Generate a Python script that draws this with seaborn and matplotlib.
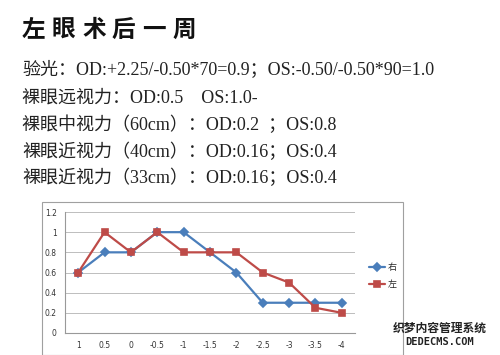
import pandas as pd
import matplotlib
matplotlib.use("Agg")
import matplotlib.pyplot as plt
import seaborn as sns
from matplotlib.patches import Rectangle

# data
categories = ['1', '0.5', '0', '-0.5', '-1', '-1.5', '-2', '-2.5', '-3', '-3.5', '-4']
right_eye = [0.6, 0.8, 0.8, 1.0, 1.0, 0.8, 0.6, 0.3, 0.3, 0.3, 0.3]
left_eye = [0.6, 1.0, 0.8, 1.0, 0.8, 0.8, 0.8, 0.6, 0.5, 0.25, 0.2]
series_names = ['右', '左']
yticks = [0, 0.2, 0.4, 0.6, 0.8, 1, 1.2]

title_chars = '左眼术后一周'
info_lines = [
    '验光：OD:+2.25/-0.50*70=0.9；OS:-0.50/-0.50*90=1.0',
    '裸眼远视力：OD:0.5    OS:1.0-',
    '裸眼中视力（60cm）：OD:0.2  ；OS:0.8',
    '裸眼近视力（40cm）：OD:0.16；OS:0.4',
    '裸眼近视力（33cm）：OD:0.16；OS:0.4',
]

df = pd.DataFrame({
    'x': categories * 2,
    'v': right_eye + left_eye,
    's': [series_names[0]] * len(categories) + [series_names[1]] * len(categories),
})

sns.set_style("white")
plt.rcParams['font.family'] = ['Liberation Serif', 'Noto Sans CJK SC', 'DejaVu Sans']

fig = plt.figure(figsize=(5, 3.55), dpi=100)
W, H = 500, 355

# chart frame (excel style box)
fig.patches.append(Rectangle((42 / W, 0), (403 - 42) / W, 1 - 202 / H,
                             transform=fig.transFigure, fill=False,
                             edgecolor='#a0a0a0', linewidth=0.8))

ax = fig.add_axes([65 / W, 1 - 333 / H, (355 - 65) / W, (333 - 212) / H])
colors = {'右': '#4a7ebb', '左': '#be4b48'}
sns.pointplot(data=df, x='x', y='v', hue='s', order=categories,
              palette=colors, markers=['D', 's'], linestyles=['-', '-'],
              errorbar=None, ax=ax, markersize=4.5, linewidth=1.6)

ax.set_ylim(0, 1.2)
ax.set_xlim(-0.5, len(categories) - 0.5)
ax.set_yticks(yticks)
ax.set_yticklabels([str(t) for t in yticks], fontsize=5.5, family='DejaVu Sans', color='#333333')
ax.set_xticklabels(categories, fontsize=5.5, family='DejaVu Sans', color='#333333')
ax.set_xlabel('')
ax.set_ylabel('')
ax.yaxis.grid(True, color='#bdbdbd', linewidth=0.7)
ax.set_axisbelow(True)
for side in ['top', 'right']:
    ax.spines[side].set_visible(False)
for side in ['left', 'bottom']:
    ax.spines[side].set_color('#999999')
    ax.spines[side].set_linewidth(0.8)
ax.tick_params(axis='both', length=0, pad=6)

leg = ax.legend(loc='center left', bbox_to_anchor=(1.02, 0.47), frameon=False,
                fontsize=6.5, handlelength=1.8, labelspacing=0.9, handletextpad=0.3)
leg.set_title(None)

# title with wide spacing
for i, ch in enumerate(title_chars):
    fig.text((22 + i * 30) / W, 1 - 30 / H, ch, fontsize=17, fontweight='bold',
             family=['Noto Sans CJK SC'], va='center', ha='left', color='#111111')

line_y = [70, 98, 125, 152, 178]
for y, txt in zip(line_y, info_lines):
    fig.text(22 / W, 1 - y / H, txt, fontsize=13, va='center', ha='left', color='#222222')

# watermark
fig.text(440 / W, 1 - 328 / H, '织梦内容管理系统', fontsize=8.5, fontweight='bold',
         family=['Noto Sans CJK SC'], ha='center', va='center', color='#222222')
fig.text(440 / W, 1 - 342 / H, 'DEDECMS.COM', fontsize=7.5, fontweight='bold',
         family=['DejaVu Sans Mono'], ha='center', va='center', color='#222222')

fig.savefig('out.png', dpi=100)
